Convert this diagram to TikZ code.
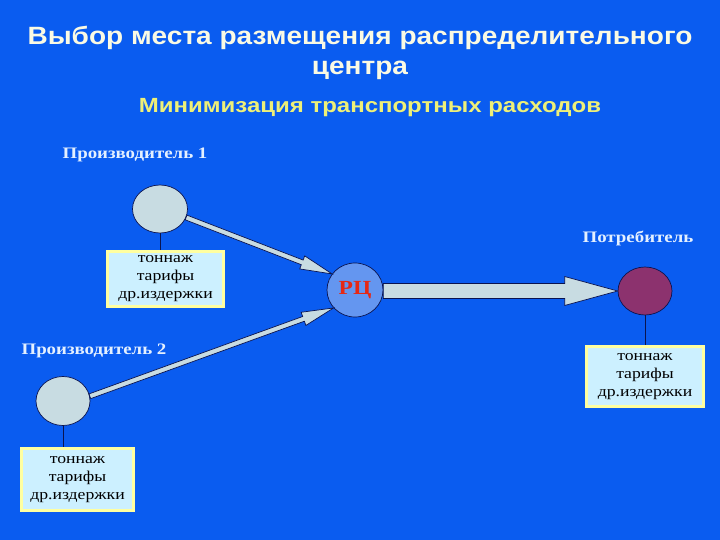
\documentclass[tikz,border=0pt]{standalone}
\usepackage{fontspec}
\setmainfont[FakeStretch=1.18]{Liberation Serif}
\newfontfamily\titlesans[FakeStretch=1.12]{Liberation Sans}
\newfontfamily\subsans[FakeStretch=1.17]{Liberation Sans}
\usetikzlibrary{calc,shapes.geometric}
\definecolor{bgblue}{RGB}{10,92,240}
\definecolor{titlecol}{RGB}{250,250,228}
\definecolor{subcol}{RGB}{238,240,120}
\definecolor{labelcol}{RGB}{228,240,255}
\definecolor{navy}{RGB}{10,20,80}
\definecolor{paleobj}{RGB}{200,220,226}
\definecolor{rcblue}{RGB}{100,150,240}
\definecolor{consp}{RGB}{140,50,110}
\definecolor{boxfill}{RGB}{204,240,255}
\definecolor{boxborder}{RGB}{255,255,160}
\definecolor{rcred}{RGB}{230,40,20}
\newcommand\blockarrow[5]{%
  \coordinate (ba-h) at ($(#2)!#5!(#1)$);
  \filldraw[arrowbody] ($(#1)!#3!90:(#2)$) -- ($(ba-h)!#3!90:(#2)$) -- ($(ba-h)!#4!90:(#2)$) -- (#2)
    -- ($(ba-h)!#4!-90:(#2)$) -- ($(ba-h)!#3!-90:(#2)$) -- ($(#1)!#3!-90:(#2)$) -- cycle;}
\begin{document}
\begin{tikzpicture}[x=1pt,y=-1pt,
  titletext/.style={text=titlecol,font=\titlesans\bfseries\fontsize{25}{30}\selectfont,inner sep=0},
  subtext/.style={text=subcol,font=\subsans\bfseries\fontsize{20.5}{24}\selectfont,inner sep=0},
  roletext/.style={text=labelcol,font=\bfseries\fontsize{16}{19}\selectfont,inner sep=0},
  obj/.style={ellipse,draw=navy,line width=0.7pt,inner sep=0},
  infobox/.style={draw=boxborder,line width=3pt,fill=boxfill,align=center,inner sep=0,
    font=\fontsize{15}{18}\selectfont,text=black},
  arrowbody/.style={fill=paleobj,draw=navy,line width=0.7pt,line join=miter},
  stem/.style={draw=navy,line width=0.8pt}]
\useasboundingbox (0,0) rectangle (720,540);
\fill[bgblue] (0,0) rectangle (720,540);
\node[titletext] (t1) at (360,38) {Выбор места размещения распределительного};
\node[titletext] (t2) at (360,70) {центра};
\node[subtext] (sub) at (370,108) {Минимизация транспортных расходов};
\node[roletext] (l1) at (135,155) {Производитель 1};
\node[roletext] (l2) at (94,351) {Производитель 2};
\node[roletext] (l3) at (638,238) {Потребитель};
\node[obj,fill=paleobj,minimum width=55pt,minimum height=48pt] (p1) at (160,209) {};
\node[obj,fill=paleobj,minimum width=54pt,minimum height=49pt] (p2) at (63,401) {};
\node[obj,fill=rcblue,minimum width=56pt,minimum height=54pt,text=rcred,font=\bfseries\fontsize{20}{24}\selectfont] (rc) at (355,290) {РЦ};
\node[obj,fill=consp,minimum width=54pt,minimum height=48pt] (cons) at (645,291) {};
\node[infobox,minimum width=116pt,minimum height=55pt] (b1) at (165.5,279) {тоннаж\\тарифы\\др.издержки};
\node[infobox,minimum width=117pt,minimum height=60pt] (b2) at (645,376.5) {тоннаж\\тарифы\\др.издержки};
\node[infobox,minimum width=112pt,minimum height=62pt] (b3) at (77.5,479.5) {тоннаж\\тарифы\\др.издержки};
\draw[stem] (p1.south) -- (p1.south |- b1.north);
\draw[stem] (p2.south) -- (p2.south |- b3.north);
\draw[stem] (cons.south) -- (cons.south |- b2.north);
\coordinate (a1s) at (p1.-18);
\coordinate (a1t) at (rc.145);
\coordinate (a2s) at (p2.10);
\coordinate (a2t) at (rc.-140);
\coordinate (a3t) at (cons.west);
\coordinate (a3s) at (rc.east |- a3t);
\blockarrow{a1s}{a1t}{2.5pt}{7pt}{32pt}
\blockarrow{a2s}{a2t}{2.5pt}{7pt}{32pt}
\blockarrow{a3s}{a3t}{7.5pt}{14.5pt}{53pt}
\end{tikzpicture}
\end{document}
